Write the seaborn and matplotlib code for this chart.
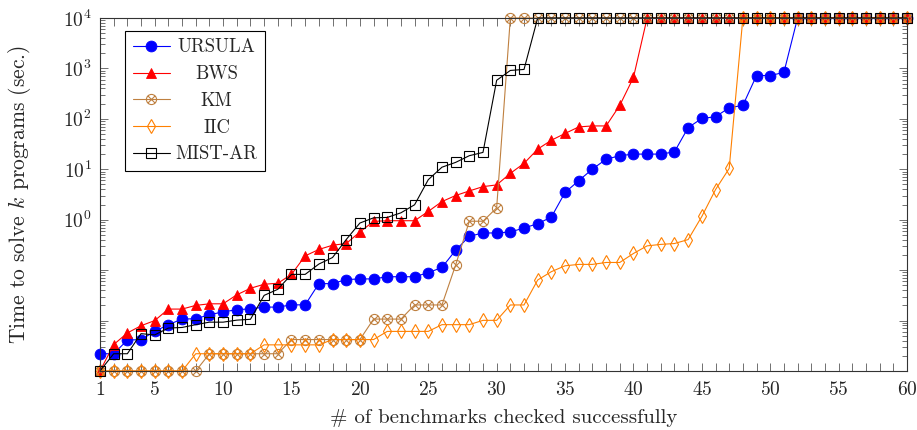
import math
import matplotlib
matplotlib.use("Agg")
import matplotlib.pyplot as plt
from matplotlib.path import Path
from matplotlib.ticker import FixedLocator, LogLocator, NullFormatter, FuncFormatter
import seaborn as sns

# number of benchmarks k (x axis)
k = list(range(1, 61))

# time (sec.) to solve k programs, 10000 = timeout
ursula = [0.0022, 0.0022, 0.0041, 0.0042, 0.0061, 0.0083, 0.0107, 0.0109, 0.013, 0.0149,
          0.0164, 0.0171, 0.0185, 0.0185, 0.0205, 0.0205, 0.054, 0.054, 0.065, 0.067,
          0.067, 0.074, 0.074, 0.074, 0.089, 0.113, 0.248, 0.469, 0.546, 0.546,
          0.571, 0.685, 0.834, 1.13, 3.47, 5.94, 10.1, 15.8, 18.6, 20.0,
          20.0, 20.0, 22.2, 67, 102, 110, 166, 185, 724, 724,
          832, 10000, 10000, 10000, 10000, 10000, 10000, 10000, 10000, 10000]

bws = [0.001, 0.00334, 0.00568, 0.0079, 0.010, 0.0169, 0.0169, 0.020, 0.0215, 0.0215,
       0.0324, 0.0437, 0.0525, 0.055, 0.0824, 0.192, 0.257, 0.312, 0.337, 0.571,
       0.927, 0.955, 0.955, 0.955, 1.46, 2.29, 3.02, 3.72, 4.53, 4.90,
       8.3, 13.1, 25.1, 37.7, 51.3, 69.2, 72.4, 72.4, 185, 661,
       10000, 10000, 10000, 10000, 10000, 10000, 10000, 10000, 10000, 10000,
       10000, 10000, 10000, 10000, 10000, 10000, 10000, 10000, 10000, 10000]

km = [0.001, 0.001, 0.001, 0.001, 0.001, 0.001, 0.001, 0.001, 0.0022, 0.0022,
      0.0022, 0.0022, 0.0022, 0.0022, 0.0042, 0.0042, 0.0042, 0.0042, 0.0042, 0.0042,
      0.0107, 0.0107, 0.0107, 0.0204, 0.0204, 0.0204, 0.126, 0.933, 0.933, 1.72,
      10000, 10000, 10000, 10000, 10000, 10000, 10000, 10000, 10000, 10000,
      10000, 10000, 10000, 10000, 10000, 10000, 10000, 10000, 10000, 10000,
      10000, 10000, 10000, 10000, 10000, 10000, 10000, 10000, 10000, 10000]

iic = [0.001, 0.001, 0.001, 0.001, 0.001, 0.001, 0.001, 0.0022, 0.0022, 0.0022,
       0.0022, 0.0022, 0.0033, 0.0033, 0.0033, 0.0033, 0.0033, 0.0042, 0.0042, 0.0042,
       0.0042, 0.0061, 0.0061, 0.0061, 0.0061, 0.0083, 0.0083, 0.0083, 0.0101, 0.0101,
       0.0204, 0.0204, 0.0638, 0.0933, 0.122, 0.130, 0.130, 0.142, 0.142, 0.214,
       0.303, 0.324, 0.337, 0.404, 1.16, 3.95, 10.4, 10000, 10000, 10000,
       10000, 10000, 10000, 10000, 10000, 10000, 10000, 10000, 10000, 10000]

mist_ar = [0.001, 0.0022, 0.0022, 0.0055, 0.0052, 0.0071, 0.0073, 0.0083, 0.0093, 0.0093,
           0.0102, 0.0106, 0.0316, 0.0417, 0.0824, 0.0824, 0.132, 0.178, 0.404, 0.859,
           1.09, 1.11, 1.37, 1.98, 6.22, 11.0, 13.7, 18.6, 21.6, 582,
           912, 955, 10000, 10000, 10000, 10000, 10000, 10000, 10000, 10000,
           10000, 10000, 10000, 10000, 10000, 10000, 10000, 10000, 10000, 10000,
           10000, 10000, 10000, 10000, 10000, 10000, 10000, 10000, 10000, 10000]

tool_names = ["URSULA", "BWS", "KM", "IIC", "MIST-AR"]
x_tick_labels = [1, 5, 10, 15, 20, 25, 30, 35, 40, 45, 50, 55, 60]
y_decades = [1e-3, 1e-2, 1e-1, 1e0, 1e1, 1e2, 1e3, 1e4]

sns.set_style("ticks")
plt.rcParams["font.family"] = ["cmr10", "DejaVu Serif"]
plt.rcParams["mathtext.fontset"] = "cm"
plt.rcParams["axes.formatter.use_mathtext"] = True

# circle with a cross, like pgfplots' otimes
otimes = Path.make_compound_path(
    Path.unit_circle(),
    Path([(-0.7071, -0.7071), (0.7071, 0.7071)]),
    Path([(-0.7071, 0.7071), (0.7071, -0.7071)]),
)

fig = plt.figure(figsize=(9.17, 4.30), dpi=100)
ax = fig.add_axes([100 / 917, 59 / 430, 807 / 917, 353 / 430])

brown = (0.75, 0.5, 0.25)
orange = (1.0, 0.5, 0.0)
styles = [
    dict(color="blue", marker="o", markersize=7.8, mfc="blue", mec="blue", mew=0.6),
    dict(color="red", marker="^", markersize=7.5, mfc="red", mec="red", mew=0.6),
    dict(color=brown, marker=otimes, markersize=7.3, mfc="none", mec=brown, mew=0.8),
    dict(color=orange, marker="d", markersize=6.8, mfc="none", mec=orange, mew=0.8),
    dict(color="black", marker="s", markersize=7.3, mfc="none", mec="black", mew=0.8),
]
for name, vals, st in zip(tool_names, [ursula, bws, km, iic, mist_ar], styles):
    sns.lineplot(x=k, y=vals, ax=ax, label=name, lw=0.8, clip_on=False, **st)

ax.set_yscale("log")
ax.set_xlim(1, 60)
ax.set_ylim(1e-3, 1e4)

ax.set_xticks(x_tick_labels)
ax.set_xticks(k, minor=True)
ax.yaxis.set_major_locator(FixedLocator(y_decades))
ax.yaxis.set_major_formatter(FuncFormatter(
    lambda v, pos: "$10^{%d}$" % round(math.log10(v)) if v >= 1 else ""))
ax.yaxis.set_minor_locator(LogLocator(base=10, subs=range(2, 10), numticks=30))
ax.yaxis.set_minor_formatter(NullFormatter())

ax.tick_params(which="both", direction="in", top=True, right=True,
               width=0.6, color="0.35", labelsize=14)
ax.tick_params(axis="x", which="both", length=5.8, pad=7)
ax.tick_params(axis="y", which="major", length=5.8, pad=6)
ax.tick_params(axis="y", which="minor", length=3.5)
for sp in ax.spines.values():
    sp.set_linewidth(0.8)
    sp.set_color("0.2")

ax.set_xlabel("# of benchmarks checked successfully", fontsize=15)
ax.set_ylabel("Time to solve $k$ programs (sec.)", fontsize=15.5)
ax.xaxis.set_label_coords(0.5, -0.108)
ax.yaxis.set_label_coords(-0.083, 0.5)

leg = ax.legend(loc="upper left", bbox_to_anchor=(25 / 807, 1 - 13 / 353),
                borderaxespad=0, fontsize=13.5, frameon=True, fancybox=False,
                framealpha=1, edgecolor="black", handlelength=2.0,
                handletextpad=0.3, labelspacing=0.47, borderpad=0.4)
leg.get_frame().set_linewidth(0.8)

# centre the legend labels in their column, as in the original legend
fig.canvas.draw()
texts = leg.get_texts()
widths = [t.get_window_extent().width for t in texts]
for t, w in zip(texts, widths):
    t.set_x((max(widths) - w) / 2)

fig.savefig("out.png", dpi=100)
